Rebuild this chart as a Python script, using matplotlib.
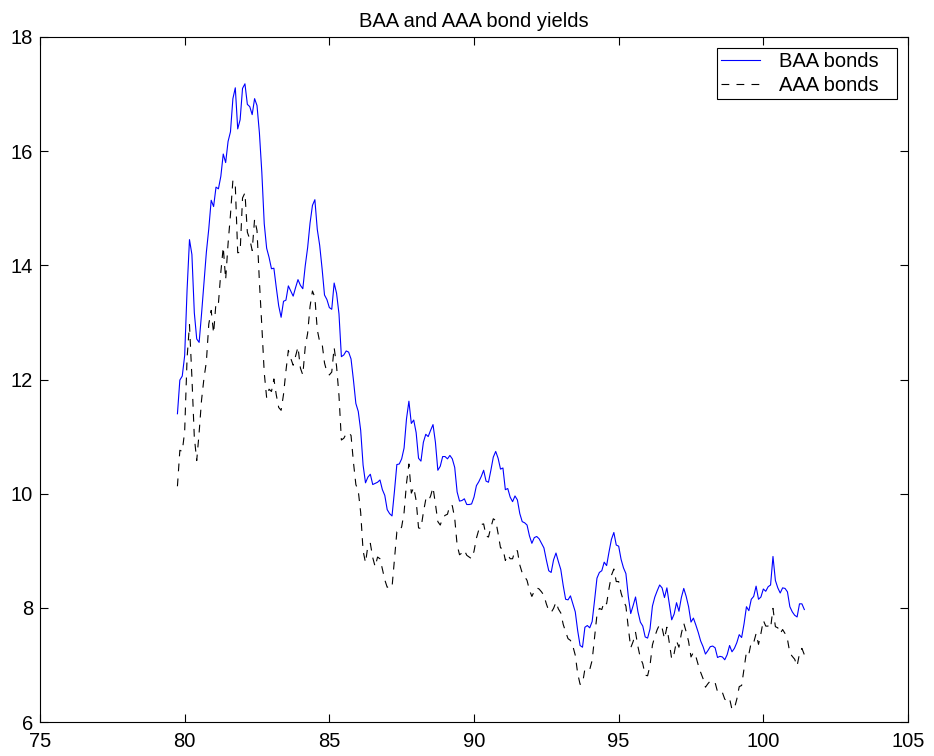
import numpy as np
import matplotlib
matplotlib.use("Agg")
import matplotlib.pyplot as plt

# Monthly data, first observation October 1979 (x = 79.75), step 1/12 year
start_x = 79 + 9 / 12

baa = [
    11.40, 11.99, 12.06,
    12.42, 13.57, 14.45, 14.19, 13.17, 12.71, 12.65, 13.15, 13.70, 14.23, 14.64, 15.14,
    15.03, 15.37, 15.34, 15.56, 15.95, 15.80, 16.17, 16.34, 16.92, 17.11, 16.39, 16.55,
    17.10, 17.18, 16.82, 16.78, 16.64, 16.92, 16.80, 16.32, 15.63, 14.73, 14.30, 14.14,
    13.94, 13.95, 13.61, 13.29, 13.09, 13.37, 13.39, 13.64, 13.55, 13.46, 13.61, 13.75,
    13.65, 13.59, 13.99, 14.31, 14.74, 15.05, 15.15, 14.63, 14.35, 13.94, 13.48, 13.40,
    13.26, 13.23, 13.69, 13.51, 13.15, 12.40, 12.43, 12.50, 12.48, 12.36, 11.99, 11.58,
    11.44, 11.11, 10.50, 10.19, 10.29, 10.34, 10.16, 10.18, 10.20, 10.24, 10.07, 9.97,
    9.72, 9.65, 9.61, 10.04, 10.51, 10.52, 10.61, 10.80, 11.31, 11.62, 11.23, 11.29,
    11.07, 10.62, 10.57, 10.90, 11.04, 11.00, 11.11, 11.21, 10.90, 10.41, 10.48, 10.65,
    10.65, 10.61, 10.67, 10.61, 10.46, 10.03, 9.87, 9.88, 9.91, 9.81, 9.81, 9.82,
    9.94, 10.14, 10.21, 10.30, 10.41, 10.22, 10.20, 10.41, 10.64, 10.74, 10.62, 10.43,
    10.45, 10.07, 10.09, 9.94, 9.86, 9.96, 9.89, 9.65, 9.51, 9.49, 9.45, 9.26,
    9.13, 9.23, 9.25, 9.21, 9.13, 9.05, 8.84, 8.65, 8.62, 8.84, 8.96, 8.81,
    8.67, 8.39, 8.15, 8.14, 8.21, 8.07, 7.93, 7.60, 7.34, 7.31, 7.66, 7.69,
    7.65, 7.76, 8.13, 8.52, 8.62, 8.65, 8.80, 8.74, 8.98, 9.20, 9.32, 9.10,
    9.08, 8.85, 8.70, 8.60, 8.20, 7.90, 8.04, 8.19, 7.93, 7.75, 7.68, 7.49,
    7.47, 7.63, 8.03, 8.19, 8.30, 8.40, 8.35, 8.18, 8.35, 8.07, 7.79, 7.89,
    8.09, 7.94, 8.18, 8.34, 8.20, 8.02, 7.75, 7.82, 7.70, 7.57, 7.42, 7.32,
    7.19, 7.25, 7.32, 7.33, 7.30, 7.13, 7.15, 7.14, 7.09, 7.18, 7.34, 7.23,
    7.29, 7.39, 7.53, 7.48, 7.72, 8.02, 7.95, 8.15, 8.20, 8.38, 8.15, 8.19,
    8.33, 8.29, 8.37, 8.40, 8.90, 8.48, 8.35, 8.26, 8.35, 8.34, 8.28, 8.02,
    7.93, 7.87, 7.84, 8.07, 8.07, 7.97,
]

aaa = [
    10.13, 10.76, 10.74,
    11.09, 12.38, 12.96, 12.04, 10.99, 10.58, 11.07, 11.64, 12.02, 12.31, 12.97, 13.21,
    12.81, 13.35, 13.33, 13.88, 14.32, 13.75, 14.38, 14.89, 15.49, 15.40, 14.22, 14.23,
    15.18, 15.27, 14.58, 14.46, 14.26, 14.81, 14.61, 13.71, 12.94, 12.12, 11.68, 11.83,
    11.79, 12.01, 11.73, 11.51, 11.46, 11.74, 12.15, 12.51, 12.37, 12.25, 12.41, 12.57,
    12.20, 12.08, 12.57, 12.81, 13.28, 13.55, 13.44, 12.87, 12.66, 12.63, 12.29, 12.13,
    12.08, 12.13, 12.56, 12.23, 11.72, 10.94, 10.97, 11.05, 11.07, 11.02, 10.55, 10.16,
    10.05, 9.67, 9.00, 8.79, 9.09, 9.13, 8.88, 8.72, 8.89, 8.86, 8.68, 8.49,
    8.36, 8.38, 8.36, 8.85, 9.33, 9.32, 9.42, 9.67, 10.18, 10.52, 10.01, 10.11,
    9.88, 9.40, 9.39, 9.67, 9.90, 9.86, 9.96, 10.11, 9.82, 9.51, 9.45, 9.57,
    9.62, 9.64, 9.80, 9.79, 9.57, 9.10, 8.93, 8.96, 9.01, 8.92, 8.89, 8.86,
    8.99, 9.22, 9.37, 9.46, 9.47, 9.26, 9.24, 9.41, 9.56, 9.53, 9.30, 9.05,
    9.04, 8.83, 8.93, 8.86, 8.86, 9.01, 9.00, 8.75, 8.61, 8.55, 8.48, 8.31,
    8.20, 8.29, 8.35, 8.33, 8.28, 8.22, 8.07, 7.95, 7.92, 7.99, 8.10, 7.98,
    7.91, 7.71, 7.58, 7.46, 7.43, 7.33, 7.17, 6.85, 6.66, 6.67, 6.93, 6.93,
    6.92, 7.08, 7.48, 7.88, 7.99, 7.97, 8.11, 8.07, 8.34, 8.57, 8.68, 8.46,
    8.46, 8.26, 8.12, 8.03, 7.65, 7.30, 7.41, 7.57, 7.32, 7.12, 7.02, 6.82,
    6.81, 6.99, 7.35, 7.50, 7.62, 7.71, 7.65, 7.46, 7.66, 7.39, 7.10, 7.20,
    7.42, 7.31, 7.55, 7.73, 7.58, 7.41, 7.14, 7.22, 7.15, 7.00, 6.87, 6.76,
    6.61, 6.67, 6.72, 6.69, 6.69, 6.53, 6.55, 6.52, 6.40, 6.37, 6.41, 6.22,
    6.24, 6.40, 6.62, 6.64, 6.93, 7.23, 7.19, 7.40, 7.39, 7.55, 7.36, 7.55,
    7.78, 7.68, 7.68, 7.64, 7.99, 7.67, 7.65, 7.55, 7.62, 7.55, 7.45, 7.21,
    7.15, 7.10, 6.98, 7.20, 7.29, 7.18,
]

labels = ["BAA bonds", "AAA bonds"]
title = "BAA and AAA bond yields"
xticks = [75, 80, 85, 90, 95, 100, 105]
yticks = [6, 8, 10, 12, 14, 16, 18]

x = start_x + np.arange(len(baa)) / 12.0

FS = 14.5
plt.rcParams["font.family"] = ["Liberation Sans", "DejaVu Sans"]
plt.rcParams["font.size"] = FS

fig = plt.figure(figsize=(9.34, 7.56), dpi=100)
ax = fig.add_axes([40 / 934, 1 - 722 / 756, 868 / 934, 685 / 756])

ax.plot(x, baa, color=(0, 0, 1), lw=0.8, label=labels[0])
ax.plot(x, aaa, color="black", lw=0.8, linestyle=(0, (7, 6.5)), label=labels[1])

ax.set_xlim(xticks[0], xticks[-1])
ax.set_ylim(yticks[0], yticks[-1])
ax.set_xticks(xticks)
ax.set_yticks(yticks)
ax.tick_params(direction="in", length=6, width=0.8, top=True, right=True,
               labelsize=FS, colors="black")
ax.tick_params(axis="x", pad=7.5)
ax.tick_params(axis="y", pad=5)
for s in ax.spines.values():
    s.set_linewidth(0.8)
    s.set_color("black")

ax.set_title(title, fontsize=FS, pad=7)

leg = ax.legend(loc="upper left", bbox_to_anchor=(0.780, 0.9739, 0.2073, 0.01),
                mode="expand", fontsize=FS, frameon=True, fancybox=False,
                shadow=False, framealpha=1, edgecolor="black",
                handlelength=1.9, handletextpad=0.95, borderaxespad=0,
                labelspacing=0.22, borderpad=0.22)
leg.get_frame().set_linewidth(0.8)

fig.savefig("out.png", dpi=100, facecolor="white")
